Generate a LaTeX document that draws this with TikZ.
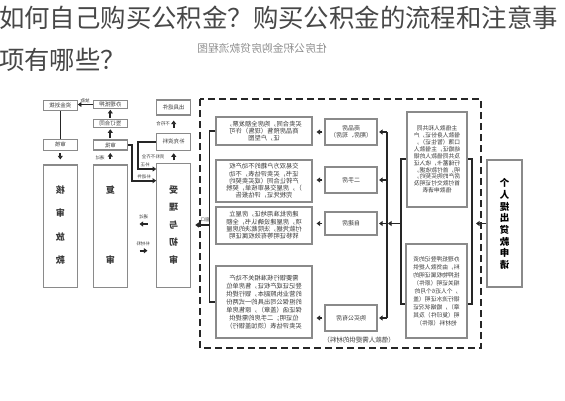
\documentclass[tikz,border=0pt]{standalone}
\usepackage{fontspec}
\setmainfont{Noto Sans CJK SC}
\usetikzlibrary{arrows.meta}
\definecolor{tgray}{HTML}{474747}
\definecolor{bgray}{HTML}{8A8A8A}
\definecolor{lgray}{HTML}{262626}
\definecolor{cgray}{HTML}{8E8E8E}
\definecolor{xgray}{HTML}{3A3A3A}
\newcommand\myfs[2]{\fontsize{#1}{#2}\selectfont}
\tikzset{
  box/.style={draw=bgray, line width=1.1pt, fill=white, inner sep=0pt},
  mir/.style={xscale=-1, inner sep=0pt, align=center, text=xgray},
  arr/.style={draw=lgray, line width=1.7pt, -{Triangle[length=3.6pt,width=5pt]}},
  ln/.style={draw=lgray, line width=1.3pt},
  dashbox/.style={draw=lgray, line width=1.4pt, dash pattern=on 7pt off 4pt},
  lab/.style={xscale=-1, inner sep=0pt, text=xgray, font=\myfs{4.5}{5}},
}
\begin{document}
\begin{tikzpicture}[x=1pt,y=-1pt]
\useasboundingbox (0,0) rectangle (565,400);
% title
\node[anchor=west, inner sep=0pt, text=tgray, font=\myfs{25.4}{26}] (t1) at (-1,18) {如何自己购买公积金？购买公积金的流程和注意事};
\node[anchor=west, inner sep=0pt, text=tgray, font=\myfs{25.4}{26}] (t2) at (-1,60) {项有哪些？};
\node[xscale=-1, inner sep=0pt, text=cgray, font=\myfs{10.8}{11}] (cap) at (262,48) {住房公积金购房贷款流程图};

% left column small boxes
\node[box, minimum width=34, minimum height=10] (T1) at (60.3,105.7) {};
\node[box, minimum width=34, minimum height=7.6] (T2) at (110.3,104.5) {};
\node[box, minimum width=34, minimum height=8.4] (T2b) at (110.3,123.5) {};
\node[box, minimum width=34, minimum height=10.7] (T1b) at (60.3,144.7) {};
\node[box, minimum width=34, minimum height=10] (T2c) at (110.3,145) {};
\node[box, minimum width=34, minimum height=15] (T3) at (173.7,107.5) {};
\node[box, minimum width=34, minimum height=17] (T3b) at (173.7,141.7) {};
\node[mir, font=\myfs{5.5}{6}] (T1t) at (T1) {资金划拨};
\node[mir, font=\myfs{5.5}{6}] (T2t) at (T2) {办理抵押};
\node[mir, font=\myfs{5.5}{6}] (T2bt) at (T2b) {签订合同};
\node[mir, font=\myfs{5.5}{6}] (T1bt) at (T1b) {审核};
\node[mir, font=\myfs{5.5}{6}] (T2ct) at (T2c) {审批};
\node[mir, font=\myfs{5.5}{6}] (T3t) at (T3) {出具退件};
\node[mir, font=\myfs{5.5}{6}] (T3bt) at (T3b) {补充资料};

% big columns
\node[box, minimum width=34, minimum height=122.7] (C1) at (60.3,226.3) {};
\node[box, minimum width=34, minimum height=122.7] (C2) at (110.3,226.3) {};
\node[box, minimum width=34, minimum height=124] (C3) at (173.7,225.8) {};
\node[mir, font=\bfseries\myfs{9}{23.3}] (C1t) at (60.3,225) {核\\审\\放\\款};
\node[mir, font=\bfseries\myfs{9}{70}] (C2t) at (110.3,225) {复\\审};
\node[mir, font=\bfseries\myfs{9}{17.5}] (C3t) at (173.7,225) {受\\理\\与\\初\\审};

% left-part connectors
\draw[arr] (T2.west) -- (T2.west -| T1.east);
\node[lab] (l1) at (85,100.3) {放款};
\draw[arr, shorten <=1pt, shorten >=1pt] (T2b.north) -- (T2.south);
\draw[arr, shorten <=1pt, shorten >=1pt] (T2c.north) -- (T2b.south);
\draw[ln] (T1.south) -- (T1b.north);
\draw[arr, shorten <=2.5pt, shorten >=5pt] (T1b.south) -- (C1.north);
\draw[arr, shorten <=5pt, shorten >=2.5pt] (C2.north) -- (T2c.south);
\node[lab] (l2) at (100,158) {通过};
\draw[arr, shorten <=5pt, shorten >=5pt] (T3b.north) -- (T3.south);
\node[lab] (l3) at (163,124) {不符合};
\draw[arr, shorten <=3pt, shorten >=2.5pt] (C3.north) -- (T3b.south);
\node[lab] (l4) at (153,157) {资料不齐全};
\coordinate (k1) at (138.3,169);
\draw[arr] (T3b.west) -| (k1) -- (k1 -| C3.west);
\node[lab] (l5) at (145,164.5) {补正};
\coordinate (k2) at (131.7,180.7);
\draw[arr] (T2c.east) -| (k2) -- (k2 -| C3.west);
\node[lab] (l6) at (144,176.3) {补退件};
\coordinate (k3a) at (147.5,224);
\coordinate (k3b) at (139.5,224);
\draw[arr] (k3a) -- (k3b);
\node[lab] (l7) at (143.5,216.5) {通过};
\coordinate (k4a) at (139.5,250.7);
\coordinate (k4b) at (147.5,250.7);
\draw[arr] (k4a) -- (k4b);
\node[lab] (l8) at (143,244) {补材料};

% dashed container
\draw[dashbox] (200,99) rectangle (481,348);

% text boxes
\node[box, minimum width=96, minimum height=28] (A) at (264,131) {};
\node[box, minimum width=96, minimum height=42] (B) at (264,181) {};
\node[box, minimum width=96, minimum height=37] (C) at (264,225.5) {};
\node[box, minimum width=96, minimum height=72] (D) at (264,302) {};
\node[mir, font=\myfs{6.3}{7}] (At) at (A) {买卖合同，购房全额发票，\\商品房预售（现售）许可\\证，户型图};
\node[mir, font=\myfs{6.3}{7.3}] (Bt) at (B) {交易双方户籍的不动产权\\证书，买卖评估表，不动\\产转让合同（或买卖契约\\），房屋交易审核单，契税\\完税凭证，评估报告};
\node[mir, font=\myfs{6.3}{7.3}] (Ct) at (C) {建房批准用地证，房屋立\\项，房屋建设确认书，全额\\付款凭据，法院裁决的房屋\\转移证明等有效权属证明};
\node[mir, font=\myfs{6.3}{8}] (Dt) at (D) {需要银行核准相关不动产\\登记证或产权证，售房单位\\的营业执照副本，银行提供\\的担保公司出具的一式两份\\保证函（盖章），原售房单\\位证明；二手房的需提供\\买卖评估表（须加盖银行）};

% middle boxes
\node[box, minimum width=52, minimum height=26] (M1) at (351,132) {};
\node[box, minimum width=52, minimum height=26] (M2) at (351,180) {};
\node[box, minimum width=52, minimum height=23] (M3) at (351,223.5) {};
\node[box, minimum width=52, minimum height=26] (M4) at (351,318) {};
\node[mir, font=\myfs{6}{7.5}] (M1t) at (M1) {商品房\\（期房、现房）};
\node[mir, font=\myfs{6}{7}] (M2t) at (M2) {二手房};
\node[mir, font=\myfs{6}{7}] (M3t) at (M3) {自建房};
\node[mir, font=\myfs{6}{7}] (M4t) at (M4) {购买公有房};
\node[xscale=-1, inner sep=0pt, text=xgray, font=\myfs{6.5}{7}] (Dl) at (359,340.5) {（借款人需提供的材料）};

% left bracket and window arrow
\draw[ln] (A.west) -- ++(-6,0) |- (D.west);
\coordinate (bk) at (210,225);
\draw[arr, shorten >=4pt] (bk) -- (bk -| C3.east);
\node[lab] (l9) at (205,219.5) {窗口};

% arrows from middle boxes to text boxes
\draw[arr, shorten <=2pt, shorten >=4pt] (M1.west) -- (M1.west -| A.east);
\draw[arr, shorten <=2pt, shorten >=4pt] (M2.west) -- (M2.west -| B.east);
\draw[arr, shorten <=2pt, shorten >=4pt] (M3.west) -- (M3.west -| C.east);
\draw[arr, shorten <=2pt, shorten >=4pt] (M4.west) -- (M4.west -| D.east);

% right bracket
\coordinate (r1) at (387,132);
\coordinate (r4) at (387,318);
\draw[ln] (r1) -- (r4);
\draw[arr, shorten >=1.5pt] (r1) -- (r1 -| M1.east);
\draw[arr, shorten >=1.5pt] (r1 |- M2.east) -- (M2.east);
\draw[arr, shorten >=1.5pt] (r1 |- M3.east) -- (M3.east);
\draw[arr, shorten >=1.5pt] (r4) -- (r4 -| M4.east);

% materials group
\node[box, draw=lgray, minimum width=71, minimum height=145] (R) at (436.5,231.5) {};
\node[box, minimum width=60, minimum height=95] (E) at (437,159.5) {};
\node[box, minimum width=61, minimum height=94] (F) at (436.5,291) {};
\node[mir, font=\myfs{5.8}{6.9}] (Et) at (E) {主借款人和共同\\借款人身份证，户\\口簿（暂住证），\\结婚证，主借款人\\及共同借款人的银\\行储蓄卡，收入证\\明，首付款收据，\\房产的购买契约，\\首付款交付证明及\\借款申请表};
\node[mir, font=\myfs{5.8}{8}] (Ft) at (F) {办理抵押登记的资\\料，由贷款人提供\\抵押物权属证明的\\相关证明（原件）\\，个人近6个月的\\银行流水证明（盖\\章），婚姻状况证\\明（复印件）及其\\他材料（原件）};
\coordinate (r3) at (388,223.5);
\draw[arr, shorten >=0pt] (R.west |- M3.east) -- (r3);

% applicant box
\node[box, minimum width=35, minimum height=127] (G) at (504.5,223.5) {};
\node[mir, text=black, font=\bfseries\myfs{9.5}{11.7}] (Gt) at (504.5,224) {个\\人\\提\\出\\贷\\款\\申\\请};
\coordinate (gd) at (476,223.5);
\draw[arr] (G.west) -- (gd);
\end{tikzpicture}
\end{document}
